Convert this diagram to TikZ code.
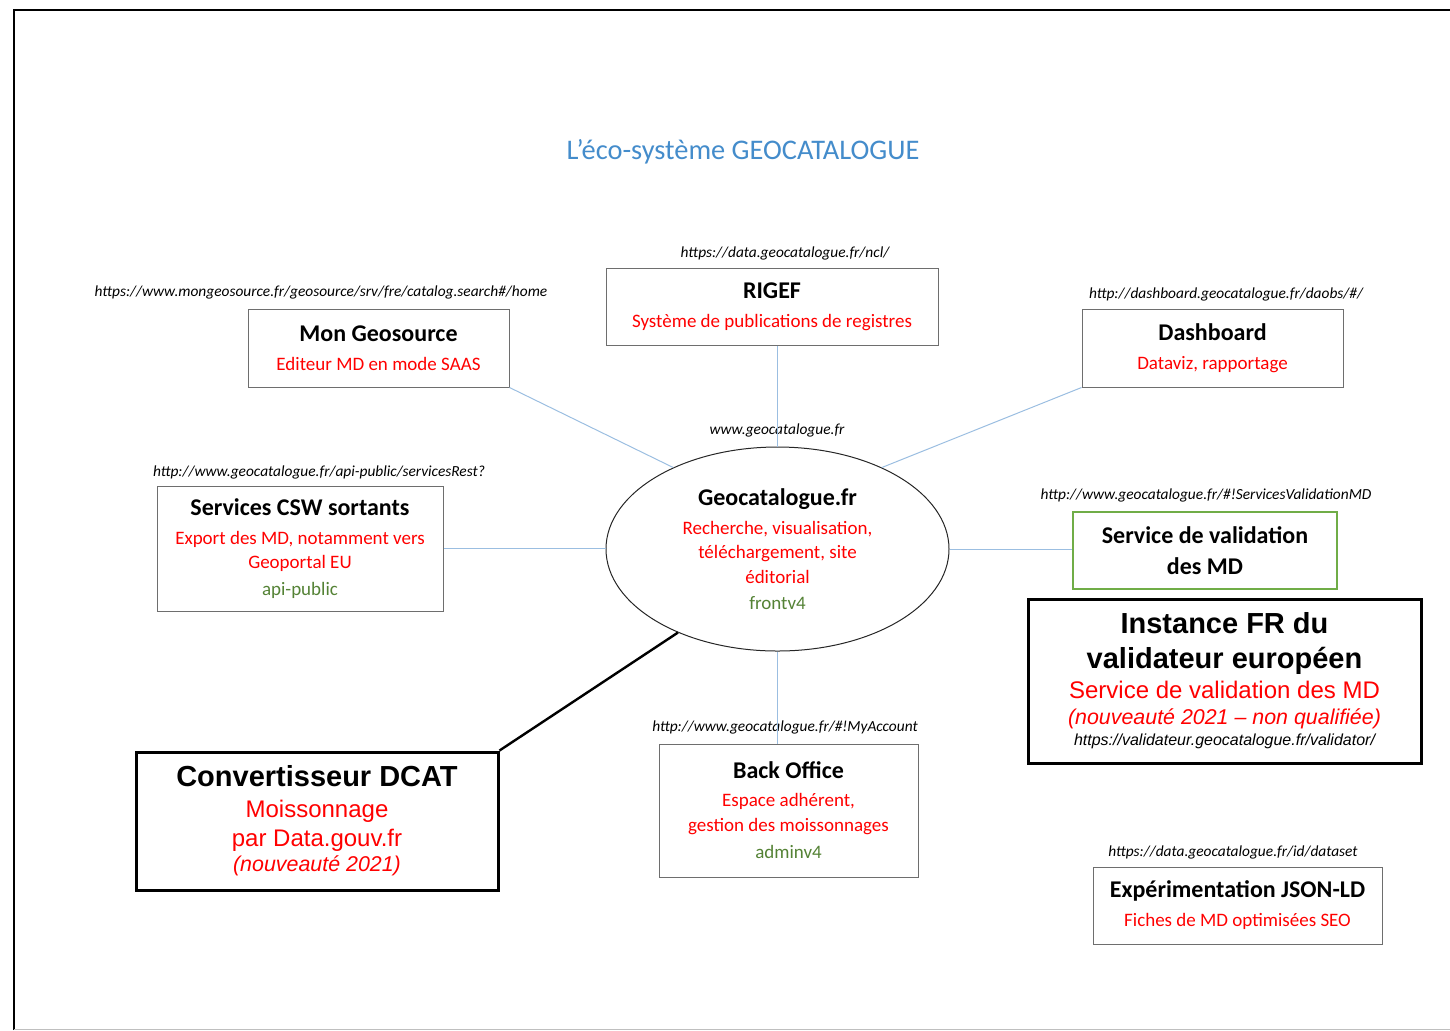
\documentclass[tikz,border=0pt]{standalone}
\usepackage{fontspec}
\setmainfont{Carlito}
\newfontfamily\arialfont{Liberation Sans}
\usetikzlibrary{shapes.geometric}
\definecolor{titleblue}{RGB}{68,140,203}
\definecolor{wireblue}{RGB}{155,190,225}
\definecolor{darkolive}{RGB}{84,130,53}
\definecolor{boxgreen}{RGB}{112,173,71}
\definecolor{boxgray}{RGB}{110,110,110}
\newcommand{\boxtitle}[1]{{\color{black}\fontsize{12}{15}\selectfont\bfseries #1}}
\newcommand{\bigtitle}[1]{{\color{black}\fontsize{14.5}{17.5}\selectfont\bfseries #1}}
\newcommand{\olive}[1]{{\color{darkolive}#1}}

\begin{document}
\begin{tikzpicture}[x=0.5pt,y=-0.5pt,
  box/.style={draw=boxgray, line width=0.5pt, align=center, inner sep=0pt, text=red, font=\fontsize{9.5}{12.5}\selectfont},
  bigbox/.style={draw, line width=1.5pt, align=center, inner sep=0pt, text=red, font=\arialfont\fontsize{12}{14.5}\selectfont},
  weblink/.style={inner sep=0pt, font=\itshape\fontsize{7.7}{9}\selectfont},
  wire/.style={draw=wireblue, line width=0.5pt}]

\useasboundingbox (0,0) rectangle (1450,1030);
\draw[line width=1pt] (14,1030) -- (14,10) -- (1450,10);
\draw[black!25] (14,1029) -- (1450,1029);

\node[text=titleblue, font=\fontsize{14.2}{16}\selectfont] (title) at (743,152) {L’éco-système GEOCATALOGUE};

\node[ellipse, draw=black!85, line width=0.5pt, minimum width=171.5pt, minimum height=102pt, inner sep=0pt, align=center, text=red, font=\fontsize{9.5}{12.5}\selectfont] (geo) at (777.5,549)
  {\boxtitle{Geocatalogue.fr}\\[2pt] Recherche, visualisation,\\[-0.5pt] téléchargement, site\\ éditorial\\[0.5pt] \olive{frontv4}};
\node[weblink] (geourl) at (777,430) {www.geocatalogue.fr};

\node[box, minimum width=130.5pt, minimum height=39pt] (mongeo) at (378.5,348) {\boxtitle{Mon Geosource}\\[2pt] Editeur MD en mode SAAS};
\node[weblink] (mongeourl) at (321,292) {https://www.mongeosource.fr/geosource/srv/fre/catalog.search\#/home};

\node[box, minimum width=166pt, minimum height=38.5pt] (rigef) at (772,306.5) {\boxtitle{RIGEF}\\[2pt] Système de publications de registres};
\node[weblink] (rigefurl) at (785,253) {https://data.geocatalogue.fr/ncl/};

\node[box, minimum width=130.5pt, minimum height=39pt] (dash) at (1212.5,348) {\boxtitle{Dashboard}\\[2pt] Dataviz, rapportage};
\node[weblink] (dashurl) at (1226,294) {http://dashboard.geocatalogue.fr/daobs/\#/};

\node[box, minimum width=143pt, minimum height=62.5pt] (csw) at (300,548.5)
  {\boxtitle{Services CSW sortants}\\[2pt] Export des MD, notamment vers\\[-0.5pt] Geoportal EU\\[1pt] \olive{api-public}};
\node[weblink] (cswurl) at (319,472) {http://www.geocatalogue.fr/api-public/servicesRest?};

\node[box, draw=boxgreen, line width=1pt, minimum width=132pt, minimum height=38.5pt, text=black, font=\fontsize{12}{15.5}\selectfont\bfseries] (valid) at (1205,550.5) {Service de validation\\des MD};
\node[weblink] (validurl) at (1206,495) {http://www.geocatalogue.fr/\#!ServicesValidationMD};

\node[bigbox, minimum width=196.5pt, minimum height=82pt] (inst) at (1224.5,681)
  {\bigtitle{Instance FR du}\\[3pt] \bigtitle{validateur européen}\\[0.5pt] Service de validation des MD\\[-1.5pt]
   {\itshape\fontsize{10.7}{13}\selectfont (nouveauté 2021 – non qualifiée)}\\[-4pt] {\color{black}\itshape\fontsize{8}{10}\selectfont https://validateur.geocatalogue.fr/validator/}};

\node[bigbox, minimum width=181pt, minimum height=69pt] (dcat) at (317,821)
  {\bigtitle{Convertisseur DCAT}\\[1pt] Moissonnage\\ par Data.gouv.fr\\[-2pt] {\itshape\fontsize{10.7}{13}\selectfont (nouveauté 2021)}};

\node[box, minimum width=129.5pt, minimum height=66.5pt] (back) at (788.5,810.5)
  {\boxtitle{Back Office}\\[1.5pt] Espace adhérent,\\ gestion des moissonnages\\[1pt] \olive{adminv4}};
\node[weblink] (backurl) at (785,727) {http://www.geocatalogue.fr/\#!MyAccount};

\node[box, minimum width=144.5pt, minimum height=38.5pt] (exp) at (1237.5,905.5) {\boxtitle{Expérimentation JSON-LD}\\[2pt] Fiches de MD optimisées SEO};
\node[weblink] (expurl) at (1233,852) {https://data.geocatalogue.fr/id/dataset};

\draw[wire] (mongeo.south east) -- (geo.142);
\draw[wire] (rigef.south -| geo.north) -- (geo.north);
\draw[wire] (dash.south west) -- (geo.38.6);
\draw[wire] (csw.east) -- (csw.east -| geo.west);
\draw[wire] (geo.east) -- (geo.east -| valid.west);
\draw[wire] (geo.south) -- (geo.south |- back.north);
\draw[line width=1.2pt] (dcat.north east) -- (geo.220);
\end{tikzpicture}
\end{document}
